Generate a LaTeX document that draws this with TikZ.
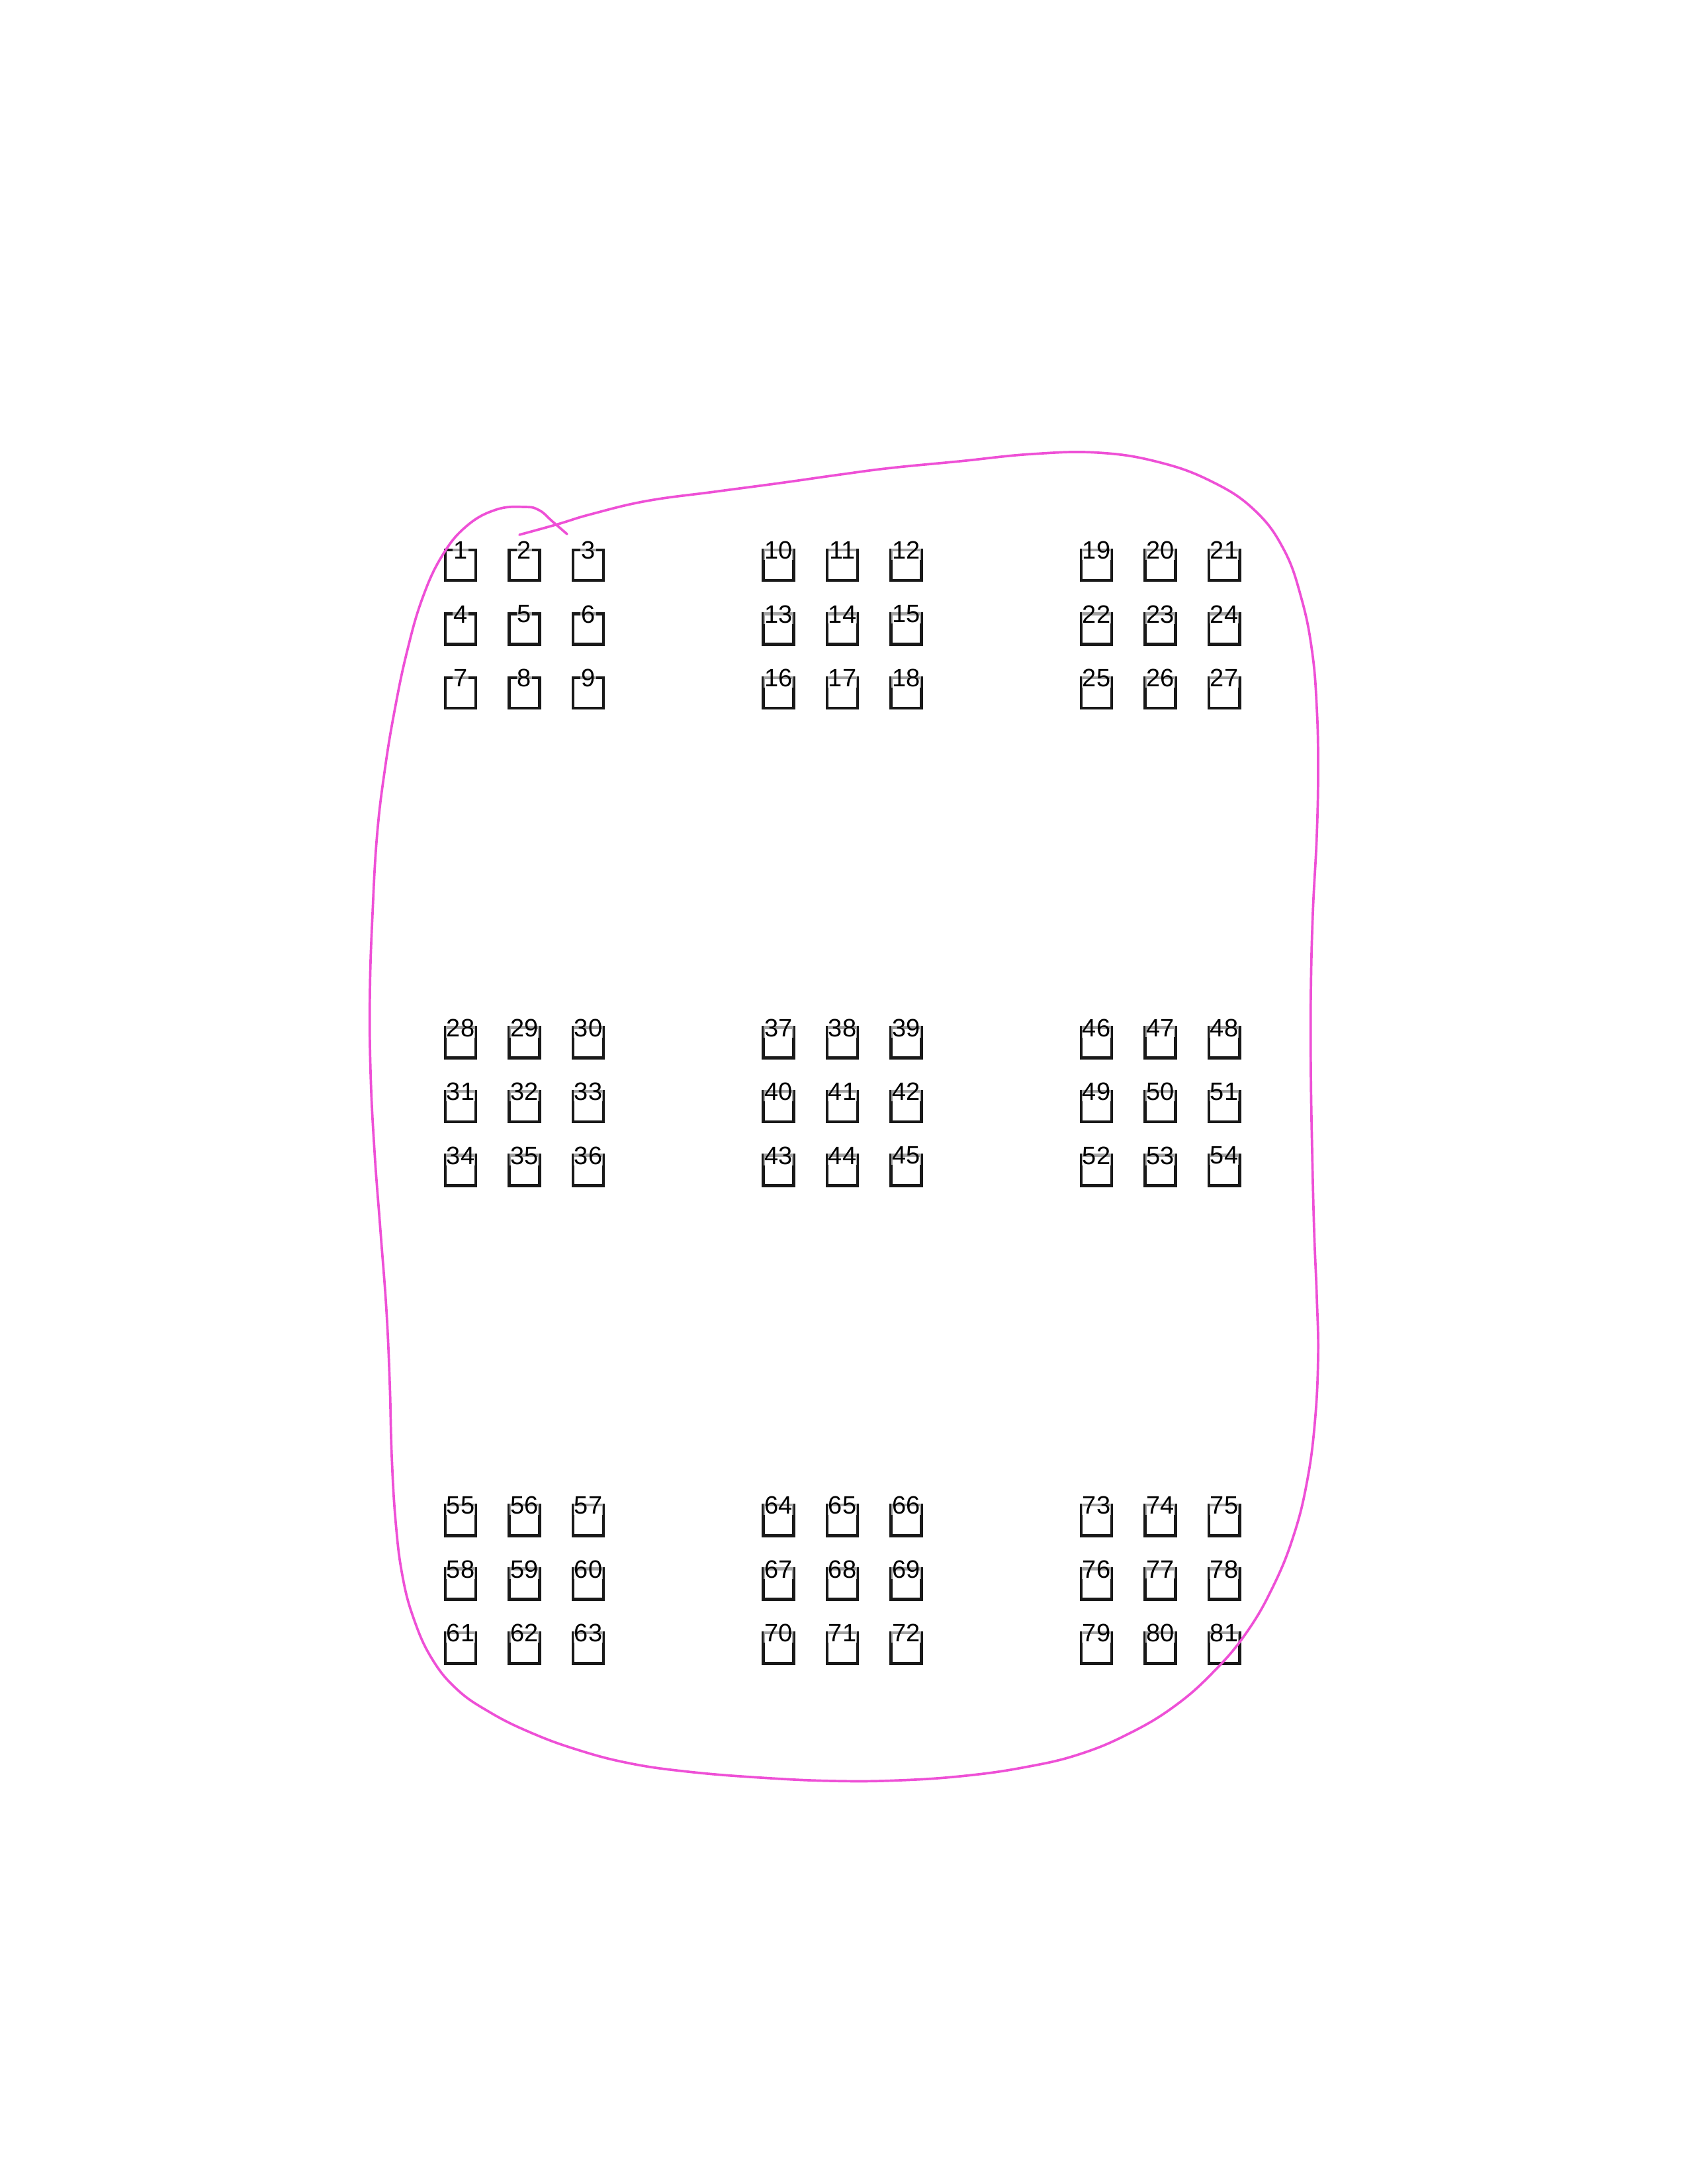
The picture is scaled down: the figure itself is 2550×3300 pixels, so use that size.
\documentclass[tikz,border=0pt]{standalone}
\usepackage{fontspec}
\setmainfont{Liberation Sans}
\usepackage{tikz}
\definecolor{marker}{RGB}{238,80,214}
\tikzset{
  cell/.style={draw=black!90, line width=1.4pt, minimum size=0.46cm, inner sep=0pt},
  num/.style={anchor=center, yshift=-0.03cm, inner sep=0.3pt, fill=white, fill opacity=0.6, text opacity=1, font=\fontsize{10.8}{13}\selectfont},
  loopline/.style={draw=marker, line width=1.05pt, line cap=round, line join=round}
}

\begin{document}
\begin{tikzpicture}[x=0.01cm, y=-0.01cm]
  \useasboundingbox (0,0) rectangle (2550,3300);
  % 9 blocks of 3x3 numbered cells
  \foreach \gr in {0,1,2}
    \foreach \gc in {0,1,2}
      \foreach \r in {0,1,2}
        \foreach \c in {0,1,2} {
          \pgfmathtruncatemacro{\n}{27*\gr+9*\gc+3*\r+\c+1}
          \node[cell, label={[num]north:\n}] (cell\n) at ({696+480.5*\gc+96.5*\c},{854+721.5*\gr+96.5*\r}) {};
        }
  % hand drawn loop round the blocks
  \draw[loopline] plot[smooth, tension=0.7] coordinates {
    (785,808) (843,792) (893,777) (977,757) (1080,743) (1178,730) (1270,717)
    (1347,707) (1450,697) (1560,686) (1660,684) (1750,698) (1830,727) (1895,770)
    (1940,830) (1967,905) (1983,985) (1990,1070) (1992,1160) (1990,1262)
    (1984,1380) (1981,1500) (1981,1620) (1983,1740) (1986,1860) (1990,1960)
    (1992,2050) (1987,2150) (1975,2240) (1955,2320) (1925,2395) (1885,2465)
    (1835,2525) (1775,2578) (1705,2620) (1630,2651) (1550,2670) (1460,2683)
    (1360,2690) (1260,2691) (1150,2686) (1040,2677) (950,2664) (870,2643)
    (800,2617) (740,2587) (690,2552) (652,2505) (625,2445) (608,2380) (598,2300)
    (592,2200) (589,2090) (584,1980) (575,1860) (566,1740) (560,1620) (559,1500)
    (563,1380) (570,1260) (582,1160) (597,1070) (615,985) (638,905) (668,840)
    (705,795) (750,770) (793,766) (815,771) (835,788) (857,807)
  };
\end{tikzpicture}
\end{document}
